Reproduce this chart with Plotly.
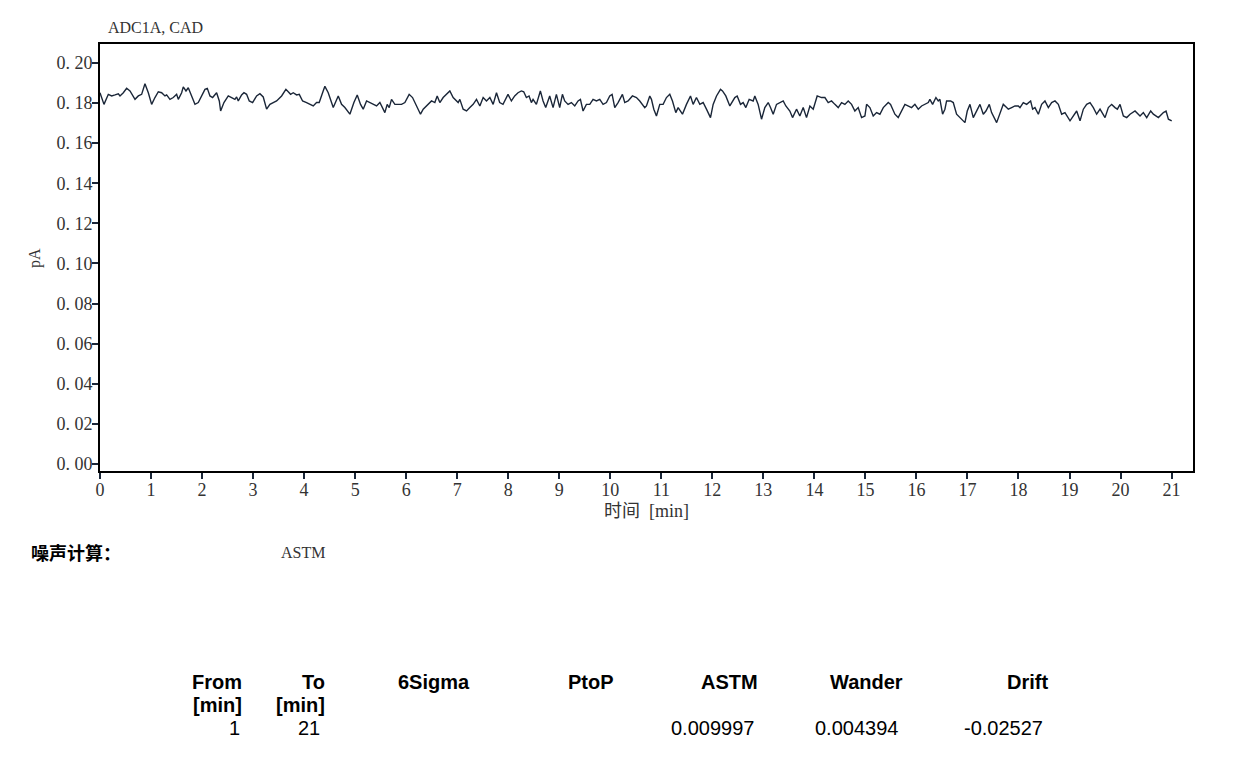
import plotly.graph_objects as go

# ---- data ----
time_min = [
    0.000, 0.078, 0.163, 0.229, 0.294, 0.359, 0.392, 0.457, 0.522, 0.588,
    0.686, 0.751, 0.816, 0.881, 0.947, 1.012, 1.077, 1.143, 1.208, 1.273,
    1.306, 1.371, 1.436, 1.502, 1.534, 1.600, 1.632, 1.685, 1.730, 1.796,
    1.861, 1.926, 1.992, 2.057, 2.103, 2.155, 2.207, 2.285, 2.338, 2.364,
    2.429, 2.514, 2.579, 2.644, 2.677, 2.710, 2.775, 2.821, 2.873, 2.925,
    2.991, 3.069, 3.134, 3.199, 3.265, 3.330, 3.395, 3.461, 3.559, 3.643,
    3.689, 3.735, 3.787, 3.852, 3.905, 3.970, 4.048, 4.127, 4.179, 4.244,
    4.296, 4.362, 4.407, 4.473, 4.538, 4.571, 4.669, 4.734, 4.799, 4.897,
    4.976, 5.041, 5.106, 5.158, 5.224, 5.289, 5.354, 5.420, 5.485, 5.583,
    5.628, 5.668, 5.713, 5.779, 5.844, 5.909, 5.975, 6.059, 6.125, 6.203,
    6.281, 6.334, 6.432, 6.497, 6.562, 6.608, 6.660, 6.725, 6.856, 6.921,
    7.019, 7.052, 7.117, 7.183, 7.248, 7.313, 7.378, 7.444, 7.509, 7.574,
    7.640, 7.705, 7.770,
    7.833, 7.898, 7.996, 8.062, 8.127, 8.192, 8.258, 8.304, 8.356, 8.408,
    8.454, 8.487, 8.552, 8.630, 8.683, 8.735, 8.813, 8.879, 8.944, 9.009,
    9.062, 9.107, 9.173, 9.238, 9.304, 9.369, 9.415, 9.467, 9.532, 9.598,
    9.663, 9.729, 9.794, 9.859, 9.925, 9.990, 10.036, 10.088, 10.153, 10.238,
    10.284, 10.349, 10.434, 10.513, 10.578, 10.676, 10.709, 10.774, 10.807, 10.853,
    10.905, 10.970, 11.036, 11.101, 11.166, 11.219, 11.284, 11.330, 11.415, 11.493,
    11.572, 11.624, 11.689, 11.755, 11.820, 11.885, 11.964, 12.016, 12.082, 12.160,
    12.199, 12.264, 12.343, 12.441, 12.487, 12.552, 12.604, 12.657, 12.722, 12.800,
    12.833, 12.898, 12.964, 13.029, 13.095, 13.140, 13.193, 13.258, 13.323, 13.389,
    13.441, 13.519, 13.572, 13.650, 13.715, 13.781, 13.846, 13.912, 13.977, 14.055,
    14.140, 14.206, 14.271, 14.336, 14.402, 14.467, 14.533, 14.598, 14.663, 14.729,
    14.794, 14.859, 14.925, 14.990, 15.023, 15.088, 15.153, 15.219, 15.284, 15.350,
    15.448, 15.493, 15.578, 15.643,
    15.774, 15.840, 15.905, 15.970, 16.036, 16.101, 16.166, 16.232, 16.264, 16.317,
    16.382, 16.428, 16.460, 16.513, 16.558, 16.591, 16.670, 16.722, 16.787, 16.951,
    16.996, 17.049, 17.114, 17.179, 17.245, 17.310, 17.362, 17.428, 17.473, 17.572,
    17.637, 17.702, 17.768, 17.800, 17.866, 17.931, 17.996, 18.029, 18.094, 18.160,
    18.238, 18.277, 18.323, 18.389, 18.454, 18.519, 18.585, 18.650, 18.715, 18.781,
    18.846, 18.911, 19.010, 19.075, 19.140, 19.206, 19.271, 19.336, 19.402, 19.467,
    19.532, 19.598, 19.696, 19.761, 19.826, 19.892, 19.938, 19.990, 20.055, 20.121,
    20.186, 20.284, 20.382, 20.447, 20.513, 20.591, 20.643, 20.742, 20.840, 20.892,
    20.938, 21.003,
]

signal_pA = [
    0.1851, 0.1793, 0.1843, 0.1835, 0.1840, 0.1846, 0.1835, 0.1851, 0.1873, 0.1860,
    0.1818, 0.1835, 0.1843, 0.1896, 0.1851, 0.1793, 0.1827, 0.1856, 0.1851, 0.1835,
    0.1840, 0.1818, 0.1827, 0.1843, 0.1818, 0.1851, 0.1880, 0.1860, 0.1876, 0.1835,
    0.1793, 0.1802, 0.1835, 0.1868, 0.1873, 0.1835, 0.1827, 0.1851, 0.1810, 0.1760,
    0.1802, 0.1835, 0.1827, 0.1818, 0.1830, 0.1810, 0.1840, 0.1851, 0.1843, 0.1810,
    0.1802, 0.1835, 0.1846, 0.1830, 0.1769, 0.1793, 0.1802, 0.1810, 0.1835, 0.1868,
    0.1856, 0.1843, 0.1851, 0.1840, 0.1843, 0.1810, 0.1802, 0.1793, 0.1785, 0.1802,
    0.1802, 0.1851, 0.1883, 0.1851, 0.1802, 0.1777, 0.1835, 0.1793, 0.1777, 0.1744,
    0.1802, 0.1840, 0.1793, 0.1769, 0.1810, 0.1802, 0.1793, 0.1785, 0.1802, 0.1752,
    0.1793, 0.1777, 0.1818, 0.1793, 0.1793, 0.1793, 0.1802, 0.1843, 0.1827, 0.1785,
    0.1744, 0.1769, 0.1793, 0.1810, 0.1802, 0.1835, 0.1802, 0.1827, 0.1860, 0.1827,
    0.1802, 0.1818, 0.1769, 0.1760, 0.1777, 0.1793, 0.1818, 0.1785, 0.1827, 0.1810,
    0.1827, 0.1793, 0.1851,
    0.1802, 0.1793, 0.1843, 0.1810, 0.1835, 0.1851, 0.1860, 0.1856, 0.1827, 0.1835,
    0.1802, 0.1818, 0.1793, 0.1860, 0.1810, 0.1777, 0.1835, 0.1777, 0.1843, 0.1777,
    0.1843, 0.1810, 0.1793, 0.1802, 0.1785, 0.1810, 0.1818, 0.1760, 0.1793, 0.1793,
    0.1818, 0.1810, 0.1818, 0.1793, 0.1802, 0.1835, 0.1843, 0.1777, 0.1802, 0.1843,
    0.1802, 0.1810, 0.1835, 0.1827, 0.1810, 0.1777, 0.1785, 0.1835, 0.1818, 0.1769,
    0.1735, 0.1793, 0.1793, 0.1827, 0.1843, 0.1810, 0.1752, 0.1777, 0.1744, 0.1793,
    0.1835, 0.1793, 0.1827, 0.1793, 0.1802, 0.1769, 0.1727, 0.1793, 0.1835, 0.1868,
    0.1860, 0.1835, 0.1785, 0.1827, 0.1835, 0.1793, 0.1802, 0.1777, 0.1818, 0.1810,
    0.1835, 0.1793, 0.1719, 0.1777, 0.1802, 0.1777, 0.1744, 0.1793, 0.1802, 0.1810,
    0.1785, 0.1760, 0.1727, 0.1769, 0.1735, 0.1777, 0.1727, 0.1785, 0.1769, 0.1835,
    0.1827, 0.1827, 0.1802, 0.1810, 0.1793, 0.1777, 0.1802, 0.1793, 0.1810, 0.1793,
    0.1760, 0.1777, 0.1727, 0.1735, 0.1793, 0.1777, 0.1735, 0.1752, 0.1744, 0.1777,
    0.1802, 0.1793, 0.1744, 0.1727,
    0.1793, 0.1785, 0.1777, 0.1793, 0.1769, 0.1785, 0.1793, 0.1802, 0.1818, 0.1793,
    0.1827, 0.1810, 0.1818, 0.1744, 0.1769, 0.1810, 0.1810, 0.1802, 0.1744, 0.1702,
    0.1760, 0.1793, 0.1727, 0.1760, 0.1793, 0.1744, 0.1760, 0.1793, 0.1752, 0.1702,
    0.1752, 0.1793, 0.1777, 0.1769, 0.1777, 0.1785, 0.1785, 0.1777, 0.1802, 0.1793,
    0.1810, 0.1769, 0.1777, 0.1744, 0.1793, 0.1810, 0.1777, 0.1802, 0.1810, 0.1793,
    0.1744, 0.1752, 0.1711, 0.1735, 0.1760, 0.1711, 0.1769, 0.1793, 0.1802, 0.1777,
    0.1744, 0.1769, 0.1727, 0.1777, 0.1793, 0.1777, 0.1769, 0.1793, 0.1735, 0.1727,
    0.1744, 0.1760, 0.1735, 0.1752, 0.1727, 0.1760, 0.1744, 0.1727, 0.1752, 0.1760,
    0.1719, 0.1711,
]

chart_title = "ADC1A, CAD"
y_label = "pA"
x_label = "时间  [min]"
y_tick_vals = [0.00, 0.02, 0.04, 0.06, 0.08, 0.10, 0.12, 0.14, 0.16, 0.18, 0.20]
y_tick_text = ["0. 00", "0. 02", "0. 04", "0. 06", "0. 08", "0. 10",
               "0. 12", "0. 14", "0. 16", "0. 18", "0. 20"]
x_tick_vals = list(range(0, 22))

noise_label = "噪声计算："
noise_method = "ASTM"
table_headers = ["From", "To", "6Sigma", "PtoP", "ASTM", "Wander", "Drift"]
table_units = ["[min]", "[min]", "", "", "", "", ""]
table_values = ["1", "21", "", "", "0.009997", "0.004394", "-0.02527"]

# ---- layout geometry (pixels) ----
W, H = 1257, 774
L, R, T, B = 100, 1193, 44, 471


def px(x):
    return (x - L) / (R - L)


def py(y):
    return (B - y) / (B - T)


line_col = "#1a2638"
text_col = "#333333"
serif = "Liberation Serif, Noto Sans CJK SC, serif"
sans = "Liberation Sans, Arial, sans-serif"

fig = go.Figure(
    go.Scatter(
        x=time_min,
        y=signal_pA,
        mode="lines",
        line=dict(color=line_col, width=1.4),
        hoverinfo="skip",
    )
)

fig.update_layout(
    width=W,
    height=H,
    margin=dict(l=L, r=W - R, t=T, b=H - B, pad=0),
    paper_bgcolor="white",
    plot_bgcolor="white",
    showlegend=False,
)

fig.update_xaxes(
    range=[0, 21.42],
    tickvals=x_tick_vals,
    ticktext=[str(v) for v in x_tick_vals],
    ticks="outside",
    ticklen=6,
    tickwidth=2,
    tickcolor=line_col,
    ticklabelstandoff=-5,
    showline=True,
    linewidth=2,
    linecolor="black",
    mirror=True,
    showgrid=False,
    zeroline=False,
    tickfont=dict(family=serif, size=18, color=text_col),
)

fig.update_yaxes(
    range=[-0.0035, 0.2094],
    tickvals=y_tick_vals,
    ticktext=y_tick_text,
    ticks="outside",
    ticklen=6,
    tickwidth=2,
    tickcolor=line_col,
    ticklabelstandoff=-4,
    showline=True,
    linewidth=2,
    linecolor="black",
    mirror=True,
    showgrid=False,
    zeroline=False,
    tickfont=dict(family=serif, size=18, color=text_col),
)

ann = []
ann.append(dict(text=chart_title, x=px(106), y=py(27.5), xanchor="left", yanchor="middle",
                font=dict(family=serif, size=16, color=text_col)))
ann.append(dict(text=y_label, x=px(35), y=py(258), xanchor="center", yanchor="middle",
                textangle=-90, font=dict(family=serif, size=16, color=text_col)))
ann.append(dict(text=x_label, x=px(646), y=py(511), xanchor="center", yanchor="middle",
                font=dict(family=serif, size=18, color=text_col)))
ann.append(dict(text="<b>" + noise_label + "</b>", x=px(29), y=py(552), xanchor="left",
                yanchor="middle", font=dict(family="Noto Sans CJK SC", size=18, color="black")))
ann.append(dict(text=noise_method, x=px(279), y=py(552), xanchor="left", yanchor="middle",
                font=dict(family=serif, size=16, color=text_col)))

header_right = [244, 327, 472, 616, 760, 905, 1050]
value_right = [242, 322, 472, 616, 756, 900, 1045]
for i, h in enumerate(table_headers):
    ann.append(dict(text="<b>" + h + "</b>", x=px(header_right[i]), y=py(682), xanchor="right",
                    yanchor="middle", font=dict(family=sans, size=20, color="black")))
    if table_units[i]:
        ann.append(dict(text="<b>" + table_units[i] + "</b>", x=px(header_right[i]), y=py(705),
                        xanchor="right", yanchor="middle",
                        font=dict(family=sans, size=20, color="black")))
    if table_values[i]:
        ann.append(dict(text=table_values[i], x=px(value_right[i]), y=py(728), xanchor="right",
                        yanchor="middle", font=dict(family=sans, size=20, color="black")))

for a in ann:
    a.update(xref="paper", yref="paper", showarrow=False)
fig.update_layout(annotations=ann)

fig.write_html("out.html")
